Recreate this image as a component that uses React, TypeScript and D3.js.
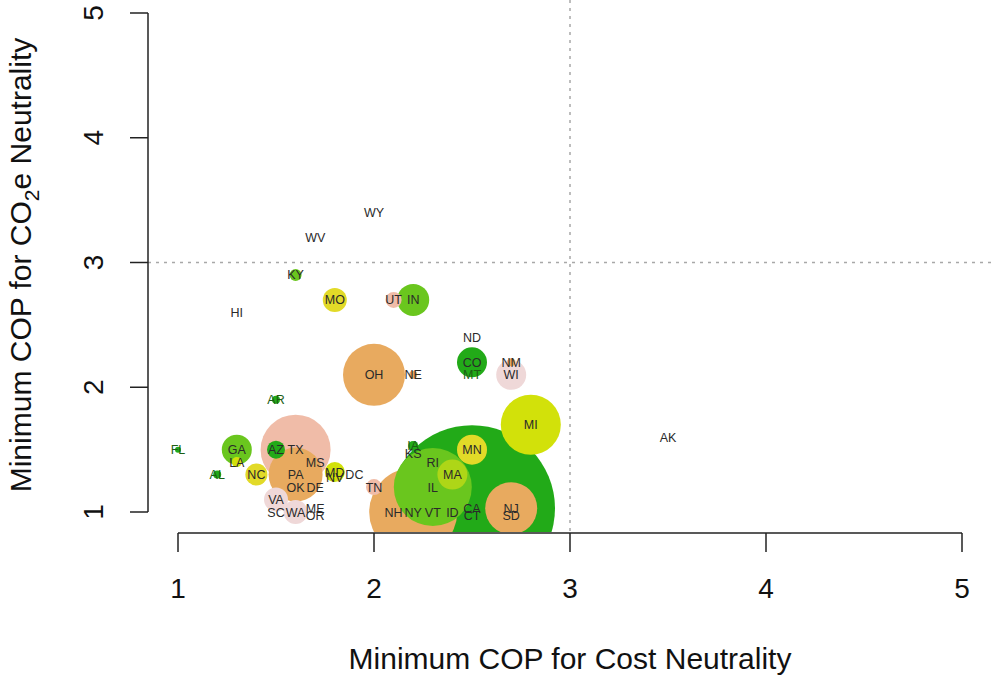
import React from "react";
import * as d3 from "d3";

// ---- data ----
const states = ["WY","WV","KY","HI","MO","UT","IN","ND","CO","MT","NM","WI","OH","NE","AR","MI","AK","FL","GA","LA","AZ","TX","MS","AL","NC","PA","MD","NV","DC","OK","DE","VA","SC","WA","ME","OR","TN","IA","KS","RI","MN","MA","IL","NH","NY","VT","ID","CA","CT","NJ","SD"];
const costCOP = [2.0,1.7,1.6,1.3,1.8,2.1,2.2,2.5,2.5,2.5,2.7,2.7,2.0,2.2,1.5,2.8,3.5,1.0,1.3,1.3,1.5,1.6,1.7,1.2,1.4,1.6,1.8,1.8,1.9,1.6,1.7,1.5,1.5,1.6,1.7,1.7,2.0,2.2,2.2,2.3,2.5,2.4,2.3,2.1,2.2,2.3,2.4,2.5,2.5,2.7,2.7];
const co2COP = [3.4,3.2,2.9,2.6,2.7,2.7,2.7,2.4,2.2,2.1,2.2,2.1,2.1,2.1,1.9,1.7,1.6,1.5,1.5,1.4,1.5,1.5,1.4,1.3,1.3,1.3,1.32,1.28,1.3,1.2,1.2,1.1,1.0,1.0,1.03,0.97,1.2,1.53,1.47,1.4,1.5,1.3,1.2,1.0,1.0,1.0,1.0,1.03,0.97,1.03,0.97];
// relative bubble size (circle radius in arbitrary units)
const bubbleSize = [0,0,6,0,12,8,16,0,15,0,4,15,31,4,4,30,0,3,15,5,9,35,0,4,11,27,10,0,0,0,0,12,0,12,0,0,8,5,0,0,15,15,39,0,44,0,0,83,0,26,0];
// color group per state
const group = [0,0,1,0,3,5,1,0,2,2,4,6,4,4,2,7,0,2,1,7,2,5,0,2,3,4,7,0,0,0,0,6,0,6,0,0,5,2,0,0,3,8,1,0,4,0,0,2,0,4,0];
const palette = ["none","#6ac61e","#22aa18","#e2da28","#e8aa5f","#f0bca8","#efd8d8","#d2e10a","#aed617"];
const xTicks = [1,2,3,4,5];
const yTicks = [1,2,3,4,5];

const W = 991, H = 675;
const FONT = "'Liberation Sans', Arial, Helvetica, sans-serif";

export default function App() {
  const x = d3.scaleLinear().domain([1, 5]).range([178, 962]);
  const y = d3.scaleLinear().domain([1, 5]).range([512, 13]);
  const r = d3.scaleLinear().domain([0, 100]).range([0, 100]);

  const pts = states.map((s, i) => ({
    s, cx: x(costCOP[i]), cy: y(co2COP[i]), rad: r(bubbleSize[i]), g: group[i],
  }));
  const circles = pts.filter(p => p.rad > 0).sort((a, b) => b.rad - a.rad);

  const plotLeft = 148, plotBottom = 532;
  const axisY = 533;

  return (
    <svg width={W} height={H} style={{ position: "absolute", left: 0, top: 0, background: "#fff" }}
      fontFamily={FONT}>
      <defs>
        <clipPath id="plotclip">
          <rect x={plotLeft} y={0} width={W - plotLeft} height={plotBottom} />
        </clipPath>
      </defs>
      <rect x={0} y={0} width={W} height={H} fill="#fff" />
      <g clipPath="url(#plotclip)">
        {circles.map(p => (
          <circle key={p.s} cx={p.cx} cy={p.cy} r={p.rad} fill={palette[p.g]} />
        ))}
        <line x1={x(3)} x2={x(3)} y1={0} y2={plotBottom} stroke="#a8a8a8" strokeWidth={1.5} strokeDasharray="3,5" />
        <line x1={plotLeft} x2={W} y1={y(3)} y2={y(3)} stroke="#a8a8a8" strokeWidth={1.5} strokeDasharray="3,5" />
        {pts.map(p => (
          <text key={p.s} x={p.cx} y={p.cy} dy="0.36em" textAnchor="middle" fontSize={12.5}
            fill={p.g === 2 && p.rad < 6 ? "#1d5e14" : "#2a2a2a"}>{p.s}</text>
        ))}
      </g>
      {/* x axis */}
      <line x1={x(1)} x2={x(5)} y1={axisY} y2={axisY} stroke="#222" strokeWidth={1.5} />
      {xTicks.map(t => (
        <g key={t}>
          <line x1={x(t)} x2={x(t)} y1={axisY} y2={axisY + 19} stroke="#222" strokeWidth={1.5} />
          <text x={x(t)} y={598} textAnchor="middle" fontSize={28} fill="#111">{t}</text>
        </g>
      ))}
      {/* y axis */}
      <line x1={plotLeft} x2={plotLeft} y1={y(5)} y2={y(1)} stroke="#222" strokeWidth={1.5} />
      {yTicks.map(t => (
        <g key={t}>
          <line x1={plotLeft} x2={plotLeft - 18} y1={y(t)} y2={y(t)} stroke="#222" strokeWidth={1.5} />
          <text transform={`translate(103,${y(t)}) rotate(-90)`} textAnchor="middle" fontSize={28} fill="#111">{t}</text>
        </g>
      ))}
      <text x={570} y={669} textAnchor="middle" fontSize={30} fill="#111">Minimum COP for Cost Neutrality</text>
      <text transform={`translate(31,265) rotate(-90)`} textAnchor="middle" fontSize={30} fill="#111">
        Minimum COP for CO<tspan dy={8} fontSize={21}>2</tspan><tspan dy={-8}>e Neutrality</tspan>
      </text>
    </svg>
  );
}
